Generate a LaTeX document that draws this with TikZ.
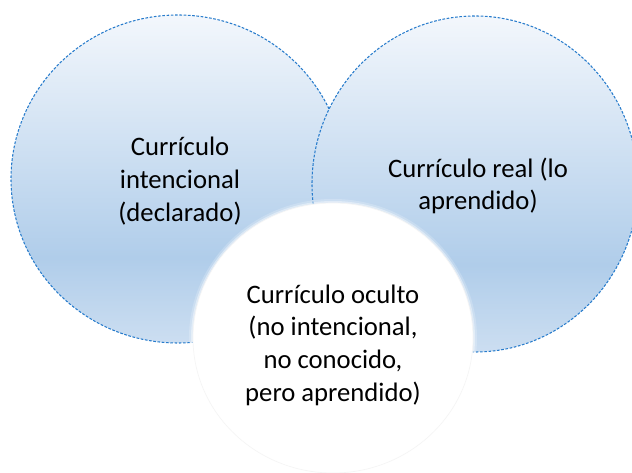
\documentclass[tikz,border=0pt]{standalone}
\usepackage{fontspec}
\setmainfont{Carlito}
\usetikzlibrary{shapes.geometric}

\definecolor{rimblue}{RGB}{40,124,204}
\definecolor{bubbletop}{RGB}{243,247,252}
\definecolor{bubblemid}{RGB}{176,205,234}
\definecolor{bubblelow}{RGB}{204,222,241}
\pgfdeclareverticalshading{bubble}{100bp}{color(0bp)=(bubblelow); color(25bp)=(bubblelow);
  color(38bp)=(bubblemid); color(75bp)=(bubbletop); color(100bp)=(bubbletop)}

\tikzset{
  rim/.style={draw=rimblue, line width=0.8pt, dash pattern=on 2pt off 1.2pt},
  label/.style={align=center, font=\fontsize{20}{24.5}\selectfont}
}

\begin{document}
\begin{tikzpicture}[x=0.75pt, y=0.75pt]
    \useasboundingbox (0,0) rectangle (632,-473);
    \draw[rim, shading=bubble](178,-179) ellipse (167 and 164);
    \draw[rim, shading=bubble](475,-184) ellipse (163 and 168);
    \fill[white, opacity=0.2](333,-338) ellipse (144 and 139);
    \fill[white, opacity=0.4](333,-338) ellipse (142 and 137);
    \fill[white](333,-338) ellipse (140 and 135);
    \draw[black!4, line width=0.5pt](333,-338) ellipse (140 and 135);
    \node[label] (intencional) at (180,-181) {Currículo\\intencional\\(declarado)};
    \node[label] (real) at (478,-186) {Currículo real (lo\\aprendido)};
    \node[label] (oculto) at (333,-345) {Currículo oculto\\(no intencional,\\no conocido,\\pero aprendido)};
    \end{tikzpicture}
\end{document}
